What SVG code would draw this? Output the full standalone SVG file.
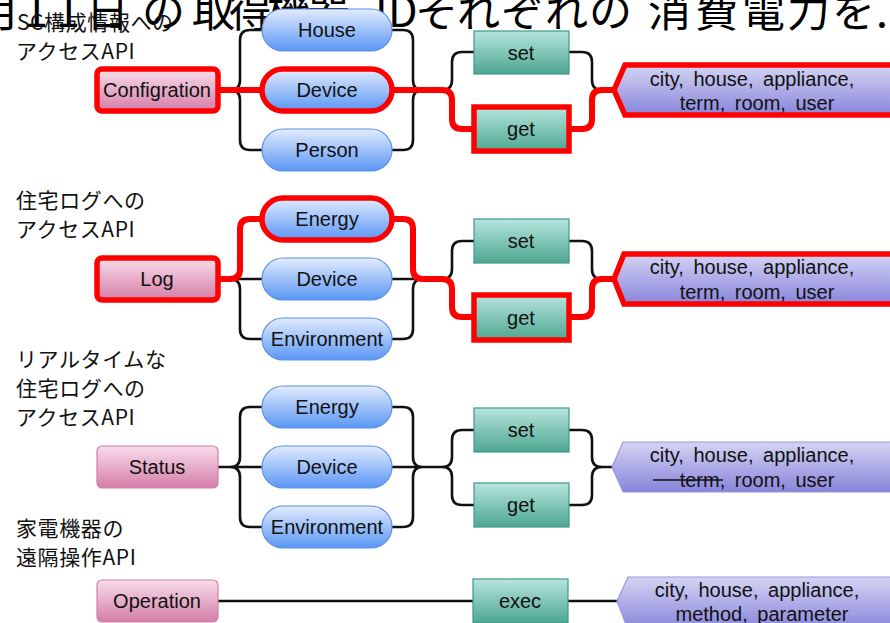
<svg xmlns="http://www.w3.org/2000/svg" width="890" height="623" viewBox="0 0 890 623">
<defs>
<linearGradient id="gPink" x1="0" y1="0" x2="0" y2="1"><stop offset="0" stop-color="#f8dcea"/><stop offset="1" stop-color="#d47ea7"/></linearGradient>
<linearGradient id="gBlue" x1="0" y1="0" x2="0" y2="1"><stop offset="0" stop-color="#e2ecfd"/><stop offset="1" stop-color="#5a96f5"/></linearGradient>
<linearGradient id="gGreen" x1="0" y1="0" x2="0" y2="1"><stop offset="0" stop-color="#b6e5dd"/><stop offset="1" stop-color="#4ea690"/></linearGradient>
<linearGradient id="gPurple" x1="0" y1="0" x2="0" y2="1"><stop offset="0" stop-color="#d4d4f3"/><stop offset="1" stop-color="#8884db"/></linearGradient>
</defs>
<style>
.title{font-family:"Noto Sans CJK JP","Noto Sans",sans-serif;font-size:43px;fill:#000}
.lbl{font-family:"Noto Sans CJK JP","Noto Sans",sans-serif;font-size:21px;letter-spacing:0.6px;fill:#111}
.t{font-family:"Liberation Sans",Arial,sans-serif;font-size:20px;fill:#111;text-anchor:middle}
.pt{font-family:"Liberation Sans",Arial,sans-serif;font-size:20px;fill:#111;text-anchor:middle;word-spacing:4px}
.pink{fill:url(#gPink);stroke:#d47ea7;stroke-width:1.2}
.blue{fill:url(#gBlue);stroke:#5b8fe6;stroke-width:1.2}
.green{fill:url(#gGreen);stroke:#3f9a86;stroke-width:1.2}
.purple{fill:url(#gPurple);stroke:#9a96e0;stroke-width:1.2}
.hl{stroke:#ff0000;stroke-width:5.5}
.c{fill:none;stroke:#111;stroke-width:2.6}
.cr{fill:none;stroke:#ff0000;stroke-width:6;stroke-linejoin:round}
</style>
<rect width="890" height="623" fill="#ffffff"/>
<text class="title" y="27" x="-23 24 56 86 142 192 229 267 307 375 388 415 457 501 545 589 648 695 742 787 832 876">月11日の取得機器IDそれぞれの消費電力を.</text>
<g id="labels">
<text class="lbl" x="17" y="30">SC構成情報への</text>
<text class="lbl" x="16" y="59">アクセスAPI</text>
<text class="lbl" x="16" y="208">住宅ログへの</text>
<text class="lbl" x="16" y="237">アクセスAPI</text>
<text class="lbl" x="16" y="367">リアルタイムな</text>
<text class="lbl" x="16" y="396">住宅ログへの</text>
<text class="lbl" x="16" y="425">アクセスAPI</text>
<text class="lbl" x="16" y="536">家電機器の</text>
<text class="lbl" x="16" y="565">遠隔操作API</text>
</g>
<g id="connectors">
<path class="c" d="M230,90 Q240,90 240,80 V40 Q240,30 250,30 H262 M230,90 Q240,90 240,100 V140 Q240,150 250,150 H262 M392,30 H403 Q413,30 413,40 V80 Q413,90 423,90 M392,150 H403 Q413,150 413,140 V100 Q413,90 423,90 M442,90 Q452,90 452,80 V62 Q452,52 462,52 H474 M569,52 H582 Q592,52 592,62 V80 Q592,90 602,90"/>
<path class="cr" d="M218,90 H262 M392,90 H442 Q452,90 452,100 V119 Q452,129 462,129 H474 M569,129 H582 Q592,129 592,119 V100 Q592,90 602,90 H615"/>
<path class="c" d="M232,279 H262 M230,279 Q240,279 240,289 V329 Q240,339 250,339 H262 M392,279 H423 M392,339 H403 Q413,339 413,329 V289 Q413,279 423,279 M442,279 Q452,279 452,269 V251 Q452,241 462,241 H474 M569,241 H582 Q592,241 592,251 V269 Q592,279 602,279"/>
<path class="cr" d="M218,279 H230 Q240,279 240,269 V229 Q240,219 250,219 H262 M392,219 H403 Q413,219 413,229 V269 Q413,279 423,279 H442 Q452,279 452,289 V307 Q452,317 462,317 H474 M569,317 H582 Q592,317 592,307 V289 Q592,279 602,279 H615"/>
<path class="c" d="M218,467 H262 M230,467 Q240,467 240,457 V417 Q240,407 250,407 H262 M230,467 Q240,467 240,477 V517 Q240,527 250,527 H262 M392,407 H403 Q413,407 413,417 V457 Q413,467 423,467 M392,527 H403 Q413,527 413,517 V477 Q413,467 423,467 M392,467 H442 M442,467 Q452,467 452,457 V440 Q452,430 462,430 H474 M442,467 Q452,467 452,477 V495 Q452,505 462,505 H474 M569,430 H582 Q592,430 592,440 V457 Q592,467 602,467 H614 M569,505 H582 Q592,505 592,495 V477 Q592,467 602,467"/>
<path class="c" d="M218,601 H474 M568,601 H619"/>
</g>
<g id="configration"><rect class="pink hl" x="97" y="69" width="121" height="42" rx="5"/><text class="t" x="157" y="97">Configration</text></g>
<g id="house"><rect class="blue" x="262" y="9" width="130" height="42" rx="21"/><text class="t" x="327" y="37">House</text></g>
<g id="device1"><rect class="blue hl" x="262" y="69" width="130" height="42" rx="21"/><text class="t" x="327" y="97">Device</text></g>
<g id="person"><rect class="blue" x="262" y="129" width="130" height="42" rx="21"/><text class="t" x="327" y="157">Person</text></g>
<g id="set1"><rect class="green" x="474" y="31" width="95" height="43"/><text class="t" x="521" y="60">set</text></g>
<g id="get1"><rect class="green hl" x="474" y="107" width="95" height="44"/><text class="t" x="521" y="136">get</text></g>
<g id="params1"><polygon class="purple hl" points="614,90 625,65 895,65 895,115 625,115"/><text class="pt" x="752" y="86">city, house, appliance,</text><text class="pt" x="757" y="110">term, room, user</text></g>

<g id="log"><rect class="pink hl" x="97" y="258" width="121" height="42" rx="5"/><text class="t" x="157" y="286">Log</text></g>
<g id="energy2"><rect class="blue hl" x="262" y="198" width="130" height="42" rx="21"/><text class="t" x="327" y="226">Energy</text></g>
<g id="device2"><rect class="blue" x="262" y="258" width="130" height="42" rx="21"/><text class="t" x="327" y="286">Device</text></g>
<g id="environment2"><rect class="blue" x="262" y="318" width="130" height="42" rx="21"/><text class="t" x="327" y="346">Environment</text></g>
<g id="set2"><rect class="green" x="474" y="219" width="95" height="44"/><text class="t" x="521" y="248">set</text></g>
<g id="get2"><rect class="green hl" x="474" y="295" width="95" height="45"/><text class="t" x="521" y="325">get</text></g>
<g id="params2"><polygon class="purple hl" points="614,279 624,254 895,254 895,304 624,304"/><text class="pt" x="752" y="274">city, house, appliance,</text><text class="pt" x="757" y="299">term, room, user</text></g>

<g id="status"><rect class="pink" x="97" y="446" width="121" height="42" rx="5"/><text class="t" x="157" y="474">Status</text></g>
<g id="energy3"><rect class="blue" x="262" y="386" width="130" height="42" rx="21"/><text class="t" x="327" y="414">Energy</text></g>
<g id="device3"><rect class="blue" x="262" y="446" width="130" height="42" rx="21"/><text class="t" x="327" y="474">Device</text></g>
<g id="environment3"><rect class="blue" x="262" y="506" width="130" height="42" rx="21"/><text class="t" x="327" y="534">Environment</text></g>
<g id="set3"><rect class="green" x="474" y="408" width="95" height="44"/><text class="t" x="521" y="437">set</text></g>
<g id="get3"><rect class="green" x="474" y="483" width="95" height="44"/><text class="t" x="521" y="512">get</text></g>
<g id="params3"><polygon class="purple" points="612,467 623,442 895,442 895,492 623,492"/><text class="pt" x="752" y="462">city, house, appliance,</text><text class="pt" x="757" y="487">term, room, user</text><line x1="653" y1="480" x2="723" y2="480" stroke="#111" stroke-width="1.6"/></g>

<g id="operation"><rect class="pink" x="97" y="580" width="121" height="42" rx="5"/><text class="t" x="157" y="608">Operation</text></g>
<g id="exec"><rect class="green" x="473" y="579" width="95" height="44"/><text class="t" x="520" y="608">exec</text></g>
<g id="params4"><polygon class="purple" points="617,601 628,577 895,577 895,630 628,630"/><text class="pt" x="757" y="597">city, house, appliance,</text><text class="pt" x="762" y="621">method, parameter</text></g>
</svg>
